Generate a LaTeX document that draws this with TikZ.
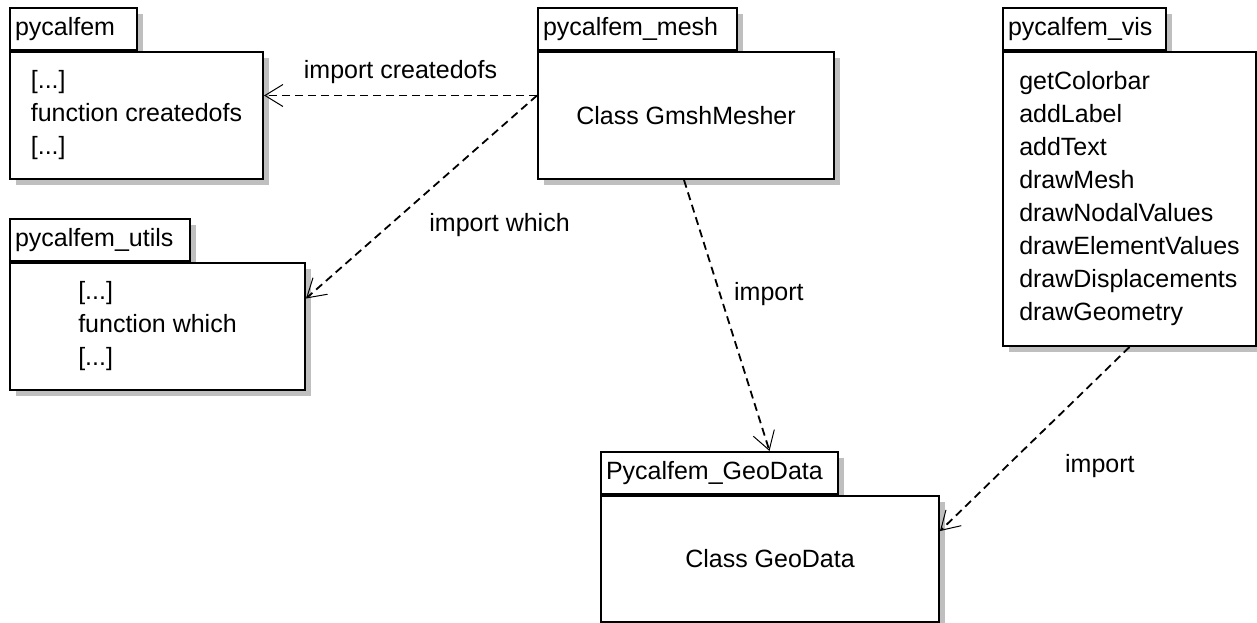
\documentclass[tikz,border=0pt]{standalone}
\usepackage{fontspec}
\setmainfont{Liberation Sans}
\usetikzlibrary{arrows.meta, shadows}

\begin{document}
\begin{tikzpicture}[x=1pt, y=-1pt, font=\fontsize{25}{33}\selectfont]
	\tikzstyle{pkgshadow} = [drop shadow={shadow xshift=6pt, shadow yshift=-6pt, 
	fill=black!25, opacity=1}]
	\tikzstyle{tab} = [rectangle, draw=black, line width=2pt, fill=white, pkgshadow, 
	anchor=north west, minimum height=42pt, inner xsep=5pt, inner ysep=0pt, align=left]
	\tikzstyle{body} = [rectangle, draw=black, line width=2pt, fill=white, pkgshadow, 
	anchor=north west, align=left, inner sep=0pt]
	\tikzstyle{dep} = [line width=1.8pt, dash pattern=on 8pt off 5pt, 
	-{Straight Barb[length=18pt, width=22pt, line width=1pt]}]
	\useasboundingbox (0,0) rectangle (1257,622);
	% packages
	\node (pycalfemTab) [tab, text width=117pt] at (9,7) {pycalfem};
	\node (pycalfemBody) [body, minimum width=253pt, minimum height=127pt] 
	at (pycalfemTab.south west) {{[...]}\\function createdofs\\{[...]}};
	\node (utilsTab) [tab, text width=170pt] at (9,218) {pycalfem\_utils};
	\node (utilsBody) [body, minimum width=295pt, minimum height=127pt] 
	at (utilsTab.south west) {{[...]}\\function which\\{[...]}};
	\node (meshTab) [tab, text width=189pt] at (537,7) {pycalfem\_mesh};
	\node (meshBody) [body, minimum width=296pt, minimum height=127pt] 
	at (meshTab.south west) {Class GmshMesher};
	\node (visTab) [tab, text width=153pt] at (1002,7) {pycalfem\_vis};
	\node (visBody) [body, minimum width=253pt, minimum height=294pt] 
	at (visTab.south west) {getColorbar\\addLabel\\addText\\drawMesh\\drawNodalValues\\drawElementValues\\drawDisplacements\\drawGeometry};
	\node (geoTab) [tab, text width=227pt] at (600,451) {Pycalfem\_GeoData};
	\node (geoBody) [body, minimum width=338pt, minimum height=126pt] 
	at (geoTab.south west) {Class GeoData};
	% dependencies
	\draw [dep] ([yshift=20pt]meshBody.west) -- node (createdofsLabel) [above=8pt] 
	{import createdofs} ([yshift=20pt]pycalfemBody.east);
	\draw [dep] ([yshift=20pt]meshBody.west) -- node (whichLabel) [pos=0.64, anchor=west, 
	xshift=36pt] {import which} ([yshift=28pt]utilsBody.east);
	\draw [dep] ([xshift=-2pt]meshBody.south) -- node (meshImportLabel) [pos=0.42, 
	anchor=west, xshift=10pt] {import} ([xshift=50pt]geoTab.north);
	\draw [dep] (visBody.south) -- node (visImportLabel) [pos=0.647, anchor=west, 
	xshift=54pt] {import} ([yshift=28pt]geoBody.east);
\end{tikzpicture}
\end{document}
